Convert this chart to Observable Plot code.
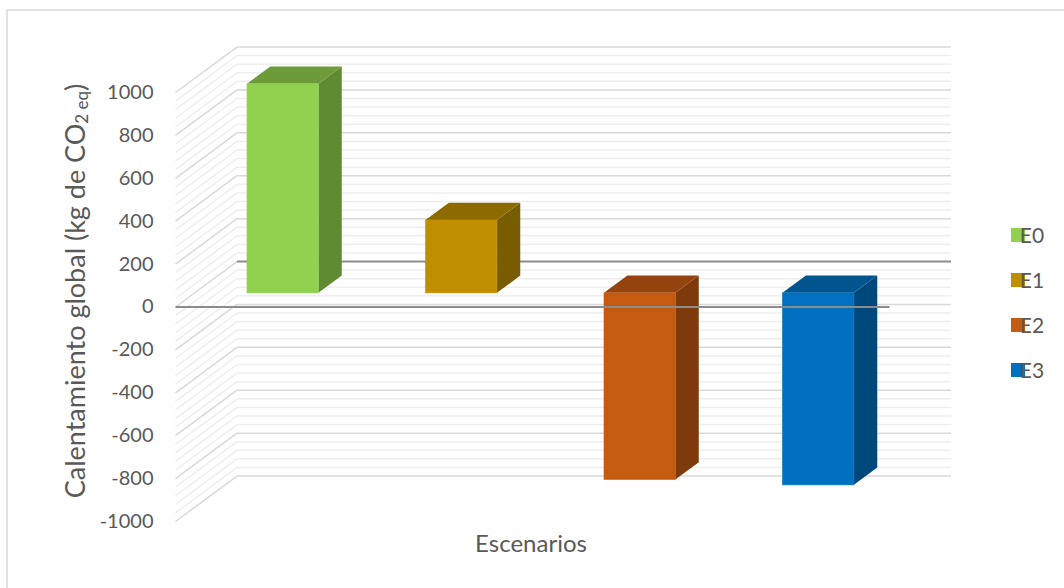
<!DOCTYPE html>
<html>
<head>
<meta charset="utf-8">
<script src="https://cdn.jsdelivr.net/npm/d3@7"></script>
<script src="https://cdn.jsdelivr.net/npm/@observablehq/plot@0.6"></script>
<style>
  html, body { margin: 0; padding: 0; background: #fff; }
  #chart { position: relative; width: 1064px; height: 588px; overflow: hidden; }
  svg { font-family: Lato, "Open Sans", sans-serif; }
</style>
</head>
<body>
<div id="chart"></div>
<script>
// ---- data ----
const categories = ["E0", "E1", "E2", "E3"];
const values = [975, 340, -870, -895];
const frontColors = ["#92D050", "#BF8F00", "#C55A11", "#0070C0"];
const sideColors  = ["#5E8A31", "#7A5C00", "#7F3A0B", "#00477B"];
const topColors   = ["#6D9B3A", "#8C6A00", "#954410", "#00558F"];
const tickValues = [1000, 800, 600, 400, 200, 0, -200, -400, -600, -800, -1000];
const yTitle = "Calentamiento global (kg de CO";
const yTitleSub = "2 eq";
const xTitle = "Escenarios";

// ---- 3D projection helpers (depth offsets expressed in data units) ----
const kx = 0.3445;   // full depth, in category units
const ky = 212;      // full depth, in value units
const f0 = 0.30, f1 = 0.68; // bar front / back depth fraction
const bw = 0.40;     // bar width in category units
const nCat = categories.length;

const grid = d3.range(-1000, 1001, 40).map(v => ({v, major: v % 200 === 0}));
const minor = grid.filter(d => !d.major);
const majorAll = grid.filter(d => d.major);
const major = majorAll.filter(d => d.v !== 0);
const zero = [{v: 0}];

const bars = categories.map((c, i) => {
  const lo = Math.min(0, values[i]), hi = Math.max(0, values[i]);
  return {c, i, lo, hi, xl: i + 0.5 - bw / 2, xr: i + 0.5 + bw / 2,
          front: frontColors[i], side: sideColors[i], top: topColors[i]};
});
const sidePts = bars.flatMap(b => [
  {c: b.c, x: b.xr + f0 * kx, y1: b.lo + f0 * ky, y2: b.hi + f0 * ky, color: b.side},
  {c: b.c, x: b.xr + f1 * kx, y1: b.lo + f1 * ky, y2: b.hi + f1 * ky, color: b.side}
]);
const topPts = bars.flatMap(b => [
  {c: b.c, y: b.hi + f0 * ky, x1: b.xl + f0 * kx, x2: b.xr + f0 * kx, color: b.top},
  {c: b.c, y: b.hi + f1 * ky, x1: b.xl + f1 * kx, x2: b.xr + f1 * kx, color: b.top}
]);

const sideWall = () => ({x1: () => 0, y1: "v", x2: () => kx, y2: r => r.v + ky});
const backWall = {x1: () => kx, y1: r => r.v + ky, x2: () => nCat + kx, y2: r => r.v + ky};

const plot = Plot.plot({
  width: 1064,
  height: 588,
  margin: 0,
  x: {type: "linear", domain: [0, nCat], range: [175, 889], axis: null},
  y: {type: "linear", domain: [-1000, 1000], range: [521, 92], axis: null},
  color: {type: "identity"},
  marks: [
    // side wall (left) gridlines
    Plot.link(minor, {...sideWall(), stroke: "#EEEEEE", strokeWidth: 1.5}),
    Plot.link(majorAll, {...sideWall(), stroke: "#D9D9D9", strokeWidth: 1.5}),
    // back wall gridlines
    Plot.link(minor, {...backWall, stroke: "#EEEEEE", strokeWidth: 1.5}),
    Plot.link(major, {...backWall, stroke: "#D9D9D9", strokeWidth: 1.5}),
    Plot.link(zero, {...backWall, stroke: "#8C8C8C", strokeWidth: 2}),
    // bars: side, top, front
    Plot.area(sidePts, {x1: "x", y1: "y1", y2: "y2", z: "c", fill: "color"}),
    Plot.area(topPts, {y1: "y", x1: "x1", x2: "x2", z: "c", fill: "color"}),
    Plot.rect(bars, {x1: d => d.xl + f0 * kx, x2: d => d.xr + f0 * kx,
                     y1: d => d.lo + f0 * ky, y2: d => d.hi + f0 * ky,
                     fill: "front", stroke: "front", strokeOpacity: 0.6, strokeWidth: 1}),
    // front zero line
    Plot.link(zero, {x1: () => 0, y1: "v", x2: () => nCat, y2: "v", stroke: "#8C8C8C", strokeWidth: 2}),
    // tick labels
    Plot.text(tickValues, {x: () => 0, y: d => d, text: d => String(d), dx: -22, textAnchor: "end",
                           fill: "#595959", fontSize: 20})
  ]
});

const chart = document.getElementById("chart");
chart.appendChild(plot);

const svg = d3.select(plot);
// outer chart border
svg.insert("rect", ":first-child")
  .attr("x", 7).attr("y", 10).attr("width", 1070).attr("height", 590)
  .attr("fill", "none").attr("stroke", "#D9D9D9").attr("stroke-width", 1.5);

// y title
const t = svg.append("text")
  .attr("transform", "translate(85,291) rotate(-90)")
  .attr("text-anchor", "middle")
  .attr("fill", "#595959")
  .attr("font-size", 27);
t.append("tspan").text(yTitle);
t.append("tspan").attr("font-size", 17).attr("dy", 3).text(yTitleSub);
t.append("tspan").attr("dy", -3).text(")");

// x title
svg.append("text")
  .attr("x", 531).attr("y", 552)
  .attr("text-anchor", "middle")
  .attr("fill", "#595959")
  .attr("font-size", 24)
  .text(xTitle);

// legend
const lg = svg.append("g");
categories.forEach((c, i) => {
  const y = 228 + i * 45;
  lg.append("rect").attr("x", 1011).attr("y", y).attr("width", 14).attr("height", 14).attr("fill", frontColors[i]);
  lg.append("text").attr("x", 1032).attr("y", y + 15).attr("fill", "#595959").attr("font-size", 21).text(c);
});
</script>
</body>
</html>
